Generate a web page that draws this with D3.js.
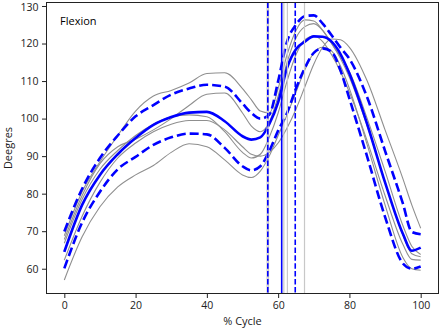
<!DOCTYPE html>
<html>
<head>
<meta charset="utf-8">
<script src="https://cdn.jsdelivr.net/npm/d3@7"></script>
<style>
  html, body { margin: 0; padding: 0; background: #fff; }
  svg { display: block; }
  text { font-family: "Open Sans", sans-serif; }
</style>
</head>
<body>
<script>
// ---- data ----
const cycle = [0,5,10,15,20,25,30,35,40,45,50,52.5,55,57.5,60,62.5,65,67.5,70,72.5,75,77.5,80,85,90,95,97.5,100];

const meanFlex  = [64.5,77.0,85.0,90.5,94.8,98.3,100.4,101.6,101.8,99.3,95.3,94.4,95.0,98.5,104.3,113.5,118.5,120.5,121.9,121.8,120.5,117.2,112.0,98.5,83.0,69.3,64.8,65.6];
const upperFlex = [69.9,81.3,89.5,95.5,100.6,103.6,106.4,108.0,109.0,108.5,104.0,101.5,100.0,101.0,110.0,120.5,125.0,127.3,127.5,125.3,122.2,118.9,115.9,105.6,91.4,77.4,69.8,69.2];
const lowerFlex = [60.1,72.3,80.5,86.5,89.8,93.0,95.0,96.0,95.8,92.2,87.3,86.2,87.3,91.3,96.8,101.5,108.0,113.5,117.5,118.7,117.8,112.8,105.3,89.8,73.8,61.4,60.0,60.6];

const trial1 = [68.8,80.5,88.5,95.5,102.0,106.0,107.5,109.5,112.0,112.2,108.0,105.0,102.0,101.5,108.0,117.0,123.5,126.3,126.0,123.5,120.0,116.5,112.5,100.0,86.0,71.5,66.0,63.8];
const trial2 = [67.8,79.5,88.0,92.5,94.5,97.0,100.0,103.5,106.5,106.8,101.5,98.0,96.5,99.0,106.0,115.0,121.5,124.5,125.3,123.5,120.0,116.0,111.0,98.0,83.0,69.0,64.0,63.2];
const trial3 = [57.0,68.5,76.5,81.8,85.0,87.5,91.0,93.3,92.5,89.0,85.0,84.3,86.0,90.0,95.5,101.0,107.0,113.0,117.5,119.0,118.0,114.0,108.0,93.0,77.0,63.0,60.0,59.6];
const trial4 = [62.3,74.0,83.0,89.5,93.5,96.5,98.5,99.5,99.5,97.0,92.5,90.5,90.0,91.0,93.5,97.5,102.5,108.5,114.5,119.0,121.2,121.0,119.0,110.0,97.0,84.0,77.0,70.8];
const trial5 = [66.8,78.5,86.5,91.5,95.5,98.5,100.5,101.0,100.5,96.5,91.0,89.5,90.5,95.0,101.5,110.0,117.0,121.0,122.0,120.5,117.0,112.5,107.0,94.0,79.5,66.5,62.5,62.3];

const toeOffTrials = [56.9, 57.3, 61.6, 62.6, 67.4];
const toeOffMean = [61.0];
const toeOffSD = [57.1, 64.8];

const xTicks = [0, 20, 40, 60, 80, 100];
const yTicks = [60, 70, 80, 90, 100, 110, 120, 130];
const title = "Flexion";
const xLabel = "% Cycle";
const yLabel = "Deegres";

// ---- layout ----
const W = 445, H = 331;
const L = 46.5, R = 438.5, T = 2.5, B = 293.5;
const FS = "11px";
const TFS = "10.5px";

const svg = d3.select("body").append("svg").attr("width", W).attr("height", H);

const x = d3.scaleLinear().domain([-5, 105]).range([L, R]);
const y = d3.scaleLinear().domain([53.4, 130.93]).range([B, T]);

const line = d3.line()
  .x((d, i) => x(cycle[i]))
  .y(d => y(d))
  .curve(d3.curveMonotoneX);

const plot = svg.append("g");

// trials
[trial1, trial2, trial3, trial4, trial5].forEach(t => {
  plot.append("path").attr("d", line(t))
    .attr("fill", "none").attr("stroke", "#8f8f8f").attr("stroke-width", 1.1);
});

// SD bounds
[upperFlex, lowerFlex].forEach(s => {
  plot.append("path").attr("d", line(s))
    .attr("fill", "none").attr("stroke", "#0000ff").attr("stroke-width", 2.6)
    .attr("stroke-dasharray", "9,4");
});
// mean
plot.append("path").attr("d", line(meanFlex))
  .attr("fill", "none").attr("stroke", "#0000ff").attr("stroke-width", 2.6);

// vertical lines
toeOffTrials.forEach(v => {
  plot.append("line").attr("x1", x(v)).attr("x2", x(v)).attr("y1", T).attr("y2", B)
    .attr("stroke", "#c8c8c8").attr("stroke-width", 1.2);
});
toeOffMean.forEach(v => {
  plot.append("line").attr("x1", x(v)).attr("x2", x(v)).attr("y1", T).attr("y2", B)
    .attr("stroke", "#0000ff").attr("stroke-width", 1.6);
});
toeOffSD.forEach(v => {
  plot.append("line").attr("x1", x(v)).attr("x2", x(v)).attr("y1", T).attr("y2", B)
    .attr("stroke", "#0000ff").attr("stroke-width", 1.6).attr("stroke-dasharray", "5.5,2.4");
});

// axes
const xAxis = svg.append("g").attr("transform", `translate(0,${B})`)
  .call(d3.axisBottom(x).tickValues(xTicks).tickFormat(d3.format("d")).tickSize(4.5).tickPadding(3.5));
const yAxis = svg.append("g").attr("transform", `translate(${L},0)`)
  .call(d3.axisLeft(y).tickValues(yTicks).tickFormat(d3.format("d")).tickSize(4.5).tickPadding(3.5));
[xAxis, yAxis].forEach(a => {
  a.select(".domain").remove();
  a.selectAll(".tick line").attr("stroke", "#222").attr("stroke-width", 1);
  a.selectAll(".tick text").attr("fill", "#222").style("font-size", TFS).style("font-family", "Open Sans");
});
// keep the top label inside the canvas
yAxis.selectAll(".tick text").filter(d => d === 130).attr("dy", "0.42em");

// frame
svg.append("rect").attr("x", L).attr("y", T).attr("width", R - L).attr("height", B - T)
  .attr("fill", "none").attr("stroke", "#222").attr("stroke-width", 1);

// texts
svg.append("text").attr("x", 60).attr("y", 25).text(title)
  .style("font-size", FS).attr("fill", "#000");
svg.append("text").attr("x", (L + R) / 2).attr("y", 325).attr("text-anchor", "middle").text(xLabel)
  .style("font-size", FS).attr("fill", "#222");
svg.append("text").attr("transform", `translate(12,${(T + B) / 2}) rotate(-90)`)
  .attr("text-anchor", "middle").text(yLabel)
  .style("font-size", FS).attr("fill", "#222");
</script>
</body>
</html>
